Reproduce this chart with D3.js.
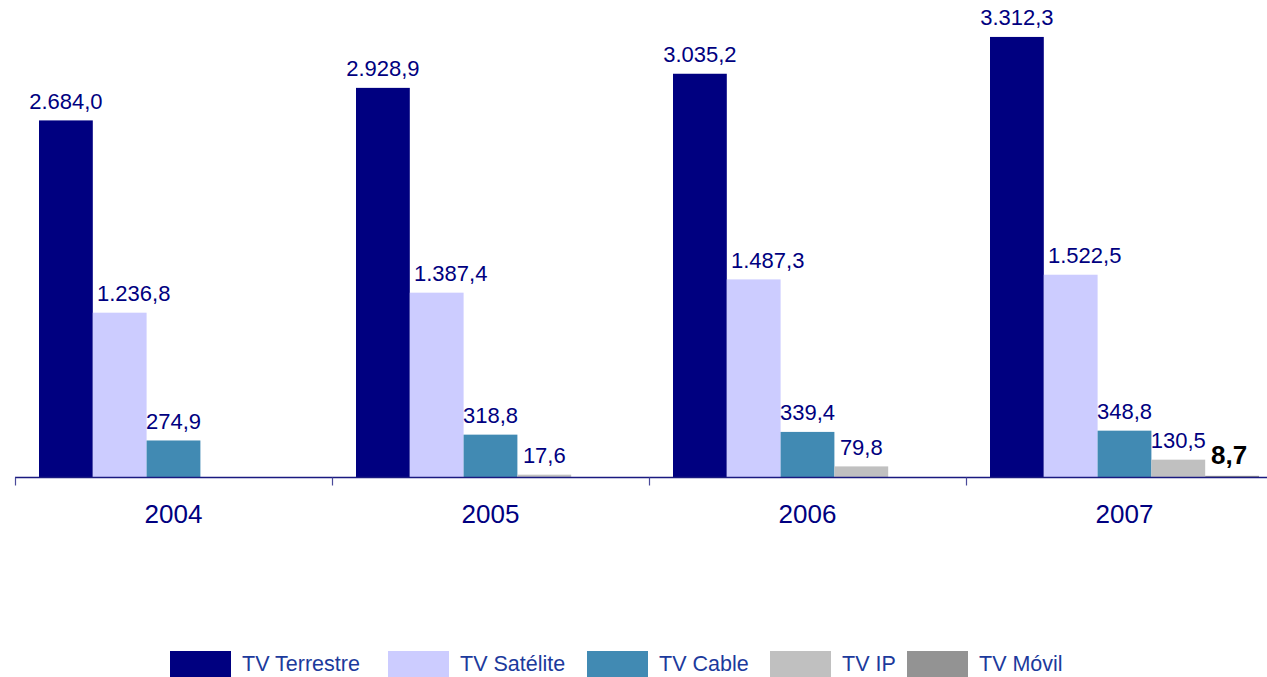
<!DOCTYPE html>
<html>
<head>
<meta charset="utf-8">
<script src="https://cdn.jsdelivr.net/npm/d3@7/dist/d3.min.js"></script>
<style>
  html, body { margin: 0; padding: 0; background: #ffffff; }
  svg { display: block; font-family: "Liberation Sans", Arial, sans-serif; }
</style>
</head>
<body>
<svg id="chart" width="1267" height="677"></svg>
<script>
// Audiencia / ingresos por plataforma de TV, 2004-2007
const years = ["2004", "2005", "2006", "2007"];
const series = ["TV Terrestre", "TV Satélite", "TV Cable", "TV IP", "TV Móvil"];
const terrestre = [2684.0, 2928.9, 3035.2, 3312.3];
const satelite  = [1236.8, 1387.4, 1487.3, 1522.5];
const cable     = [274.9, 318.8, 339.4, 348.8];
const ip        = [null, 17.6, 79.8, 130.5];
const movil     = [null, null, null, 8.7];

const seriesValues = [terrestre, satelite, cable, ip, movil];
const colors = ["#000080", "#ccccff", "#418ab3", "#c0c0c0", "#939393"];
// horizontal nudge of each series' value label
const labelShift = [0, 14, 0, 0, -3];

const fmt = v => {
  const s = v.toFixed(1).split(".");
  const int = s[0].replace(/\B(?=(\d{3})+(?!\d))/g, ".");
  return int + "," + s[1];
};

const svg = d3.select("#chart");

const x0 = d3.scaleBand().domain(years).range([15, 1283]).padding(0);
const x1 = d3.scaleBand().domain(series).range([24, x0.bandwidth() - 24]).padding(0);
const y = d3.scaleLinear().domain([0, 3500]).range([477, 12]);

const cells = [];
years.forEach((yr, i) => {
  series.forEach((s, j) => {
    const v = seriesValues[j][i];
    if (v != null) cells.push({ year: yr, series: s, idx: j, value: v });
  });
});

// bars
svg.append("g").selectAll("rect")
  .data(cells)
  .join("rect")
  .attr("x", d => x0(d.year) + x1(d.series))
  .attr("width", x1.bandwidth())
  .attr("y", d => y(d.value))
  .attr("height", d => y(0) - y(d.value))
  .attr("fill", d => colors[d.idx]);

// value labels
svg.append("g").selectAll("text")
  .data(cells)
  .join("text")
  .attr("x", d => x0(d.year) + x1(d.series) + x1.bandwidth() / 2 + labelShift[d.idx])
  .attr("y", d => y(d.value) - 11.5)
  .attr("text-anchor", "middle")
  .attr("font-size", d => d.idx === 4 ? 26 : 22)
  .attr("font-weight", d => d.idx === 4 ? "bold" : "normal")
  .attr("fill", d => d.idx === 4 ? "#000000" : "#000080")
  .text(d => fmt(d.value));

// category axis
const axisG = svg.append("g").attr("transform", "translate(0,477.5)");
axisG.append("line")
  .attr("x1", 15).attr("x2", 1283)
  .attr("stroke", "#1a1a80").attr("stroke-width", 1.3);
// group separators
const edges = years.map(d => x0(d)).concat([x0.range()[1]]);
axisG.selectAll("line.sep")
  .data(edges)
  .join("line")
  .attr("class", "sep")
  .attr("x1", d => Math.round(d) + 0.5).attr("x2", d => Math.round(d) + 0.5)
  .attr("y1", 0).attr("y2", 8)
  .attr("stroke", "#4a4a9a").attr("stroke-width", 1.2);
axisG.selectAll("text.year")
  .data(years)
  .join("text")
  .attr("class", "year")
  .attr("x", d => x0(d) + x0.bandwidth() / 2)
  .attr("y", 45.5)
  .attr("text-anchor", "middle")
  .attr("font-size", 26)
  .attr("fill", "#000080")
  .text(d => d);

// legend
const legendX = [170, 388, 587, 770, 907];
const legend = svg.append("g").attr("transform", "translate(0,651)");
series.forEach((s, j) => {
  legend.append("rect")
    .attr("x", legendX[j]).attr("y", 0)
    .attr("width", 61).attr("height", 26)
    .attr("fill", colors[j]);
  legend.append("text")
    .attr("x", legendX[j] + 72).attr("y", 20)
    .attr("font-size", 21.5)
    .attr("fill", "#1c3a9c")
    .text(s);
});
</script>
</body>
</html>
